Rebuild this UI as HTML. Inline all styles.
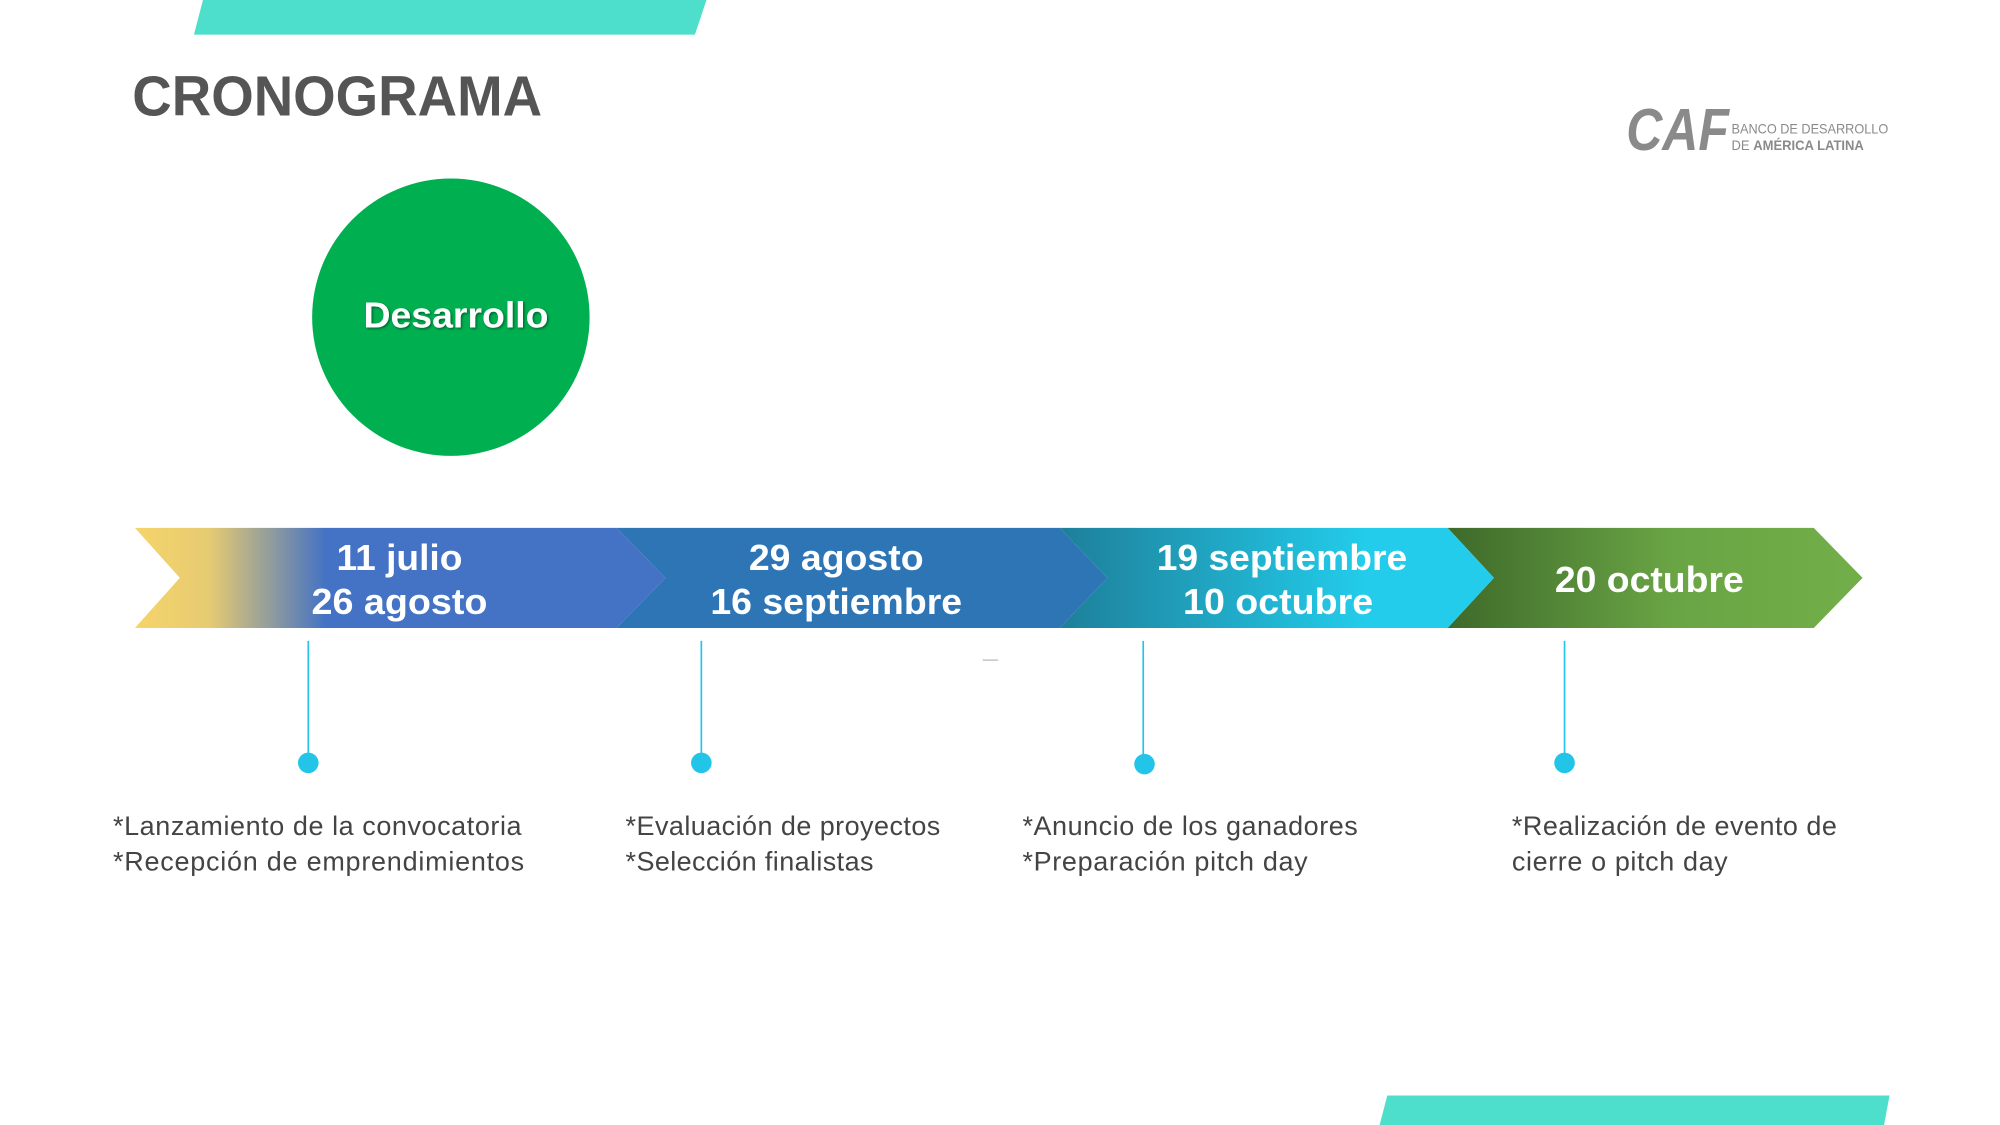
<!DOCTYPE html>
<html><head><meta charset="utf-8"><style>
html,body{margin:0;padding:0;background:#fff;width:2000px;height:1125px;overflow:hidden}
svg{display:block}
</style></head><body>
<svg width="2000" height="1125" viewBox="0 0 1557 876" preserveAspectRatio="none" xmlns="http://www.w3.org/2000/svg" font-family="Liberation Sans, Arial, sans-serif">
<defs>
<linearGradient id="g1" x1="105" y1="0" x2="518" y2="0" gradientUnits="userSpaceOnUse">
<stop offset="0" stop-color="#F6D46A"/><stop offset="0.14" stop-color="#E6CB72"/><stop offset="0.36" stop-color="#4472C4"/><stop offset="1" stop-color="#4472C4"/></linearGradient>
<linearGradient id="g3" x1="825" y1="0" x2="1163" y2="0" gradientUnits="userSpaceOnUse">
<stop offset="0" stop-color="#1E7F9A"/><stop offset="0.7" stop-color="#22CCEA"/><stop offset="1" stop-color="#22CCEA"/></linearGradient>
<linearGradient id="g4" x1="1127" y1="0" x2="1450" y2="0" gradientUnits="userSpaceOnUse">
<stop offset="0" stop-color="#3E6A2A"/><stop offset="0.55" stop-color="#6AA545"/><stop offset="1" stop-color="#72AE48"/></linearGradient>
<filter id="sh" x="-10%" y="-10%" width="120%" height="130%"><feDropShadow dx="1" dy="1" stdDeviation="1" flood-color="#000" flood-opacity="0.45"/></filter>
</defs>
<polygon points="158,0 550,0 541,27 151,27" fill="#4DDFCB"/>
<polygon points="1080,853 1471,853 1466,880 1073,880" fill="#4DDFCB"/>
<text x="103" y="90" font-size="44" font-weight="bold" fill="#555" textLength="319" lengthAdjust="spacingAndGlyphs">CRONOGRAMA</text>
<!-- logo -->
<text x="1266" y="117" font-size="46" font-weight="bold" font-style="italic" fill="#8a8a8a" textLength="80" lengthAdjust="spacingAndGlyphs">CAF</text>
<text x="1348" y="104" font-size="11" fill="#8a8a8a" textLength="122" lengthAdjust="spacingAndGlyphs">BANCO DE DESARROLLO</text>
<text x="1348" y="117" font-size="11" fill="#8a8a8a" textLength="103" lengthAdjust="spacingAndGlyphs">DE <tspan font-weight="bold">AMÉRICA LATINA</tspan></text>
<!-- circle -->
<circle cx="351" cy="247" r="108" fill="#00B050"/>
<text x="355" y="255" font-size="28" font-weight="bold" fill="#fff" text-anchor="middle" filter="url(#sh)" textLength="144" lengthAdjust="spacingAndGlyphs">Desarrollo</text>
<!-- arrows -->
<polygon points="1127,411 1412,411 1450,450 1412,489 1127,489 1163,450" fill="url(#g4)"/>
<polygon points="825,411 1127,411 1163,450 1127,489 825,489 862,450" fill="url(#g3)"/>
<polygon points="480,411 825,411 862,450 825,489 480,489 518,450" fill="#2E75B6"/>
<polygon points="105,411 480,411 518,450 480,489 105,489 140,450" fill="url(#g1)"/>
<g font-size="28" font-weight="bold" fill="#fff" text-anchor="middle">
<text x="311" y="444" textLength="98" lengthAdjust="spacingAndGlyphs">11 julio</text>
<text x="311" y="478" textLength="137" lengthAdjust="spacingAndGlyphs">26 agosto</text>
<text x="651" y="444" textLength="136" lengthAdjust="spacingAndGlyphs">29 agosto</text>
<text x="651" y="478" textLength="196" lengthAdjust="spacingAndGlyphs">16 septiembre</text>
<text x="998" y="444" textLength="195" lengthAdjust="spacingAndGlyphs">19 septiembre</text>
<text x="995" y="478" textLength="148" lengthAdjust="spacingAndGlyphs">10 octubre</text>
<text x="1284" y="461" textLength="147" lengthAdjust="spacingAndGlyphs">20 octubre</text>
</g>
<!-- connectors -->
<g stroke="#22C5E8" stroke-width="1.3">
<line x1="240" y1="499" x2="240" y2="594"/><line x1="546" y1="499" x2="546" y2="594"/>
<line x1="890" y1="499" x2="890" y2="595"/><line x1="1218" y1="499" x2="1218" y2="594"/>
</g>
<g fill="#22C5E8">
<circle cx="240" cy="594" r="8"/><circle cx="546" cy="594" r="8"/><circle cx="891" cy="595" r="8"/><circle cx="1218" cy="594" r="8"/>
</g>
<line x1="765" y1="514" x2="777" y2="514" stroke="#bbb" stroke-width="1"/>
<g font-size="21" fill="#444" lengthAdjust="spacingAndGlyphs">
<text x="88" y="650" textLength="318">*Lanzamiento de la convocatoria</text>
<text x="88" y="678" textLength="320">*Recepción de emprendimientos</text>
<text x="487" y="650" textLength="245">*Evaluación de proyectos</text>
<text x="487" y="678" textLength="193">*Selección finalistas</text>
<text x="796" y="650" textLength="261">*Anuncio de los ganadores</text>
<text x="796" y="678" textLength="222">*Preparación pitch day</text>
<text x="1177" y="650" textLength="253">*Realización de evento de</text>
<text x="1177" y="678" textLength="168">cierre o pitch day</text>
</g>
</svg>
</body></html>
